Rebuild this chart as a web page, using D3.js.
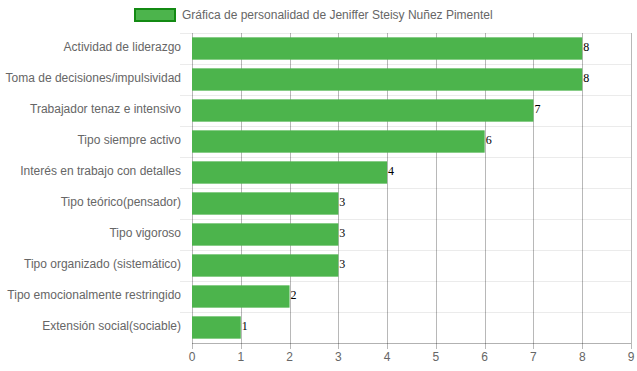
<!DOCTYPE html>
<html>
<head>
<meta charset="utf-8">
<script src="https://cdn.jsdelivr.net/npm/d3@7"></script>
<style>
  body { margin: 0; background: #fff; }
  svg { display: block; }
</style>
</head>
<body>
<div id="chart"></div>
<script>
// datos de la gráfica
var categorias = [
    "Actividad de liderazgo",
    "Toma de decisiones/impulsividad",
    "Trabajador tenaz e intensivo",
    "Tipo siempre activo",
    "Interés en trabajo con detalles",
    "Tipo teórico(pensador)",
    "Tipo vigoroso",
    "Tipo organizado (sistemático)",
    "Tipo emocionalmente restringido",
    "Extensión social(sociable)"
];
var valores = [8, 8, 7, 6, 4, 3, 3, 3, 2, 1];
var ticksX = [0, 1, 2, 3, 4, 5, 6, 7, 8, 9];
var titulo = "Gráfica de personalidad de Jeniffer Steisy Nuñez Pimentel";

var width = 637;
var height = 371;
var fuente = "'Liberation Sans', Arial, sans-serif";

var svg = d3.select("#chart")
    .append("svg")
    .attr("width", width)
    .attr("height", height);

var x = d3.scaleLinear()
    .domain([0, 9])
    .range([192, 631]);

var y = d3.scaleBand()
    .domain(categorias)
    .range([33, 343]);

// lineas horizontales (entre categorias)
svg.append("g")
    .selectAll("line")
    .data(d3.range(categorias.length))
    .enter().append("line")
    .attr("x1", 180)
    .attr("x2", 631)
    .attr("y1", d => Math.round(y(categorias[d])) + 0.5)
    .attr("y2", d => Math.round(y(categorias[d])) + 0.5)
    .attr("stroke", "rgba(0,0,0,0.08)");

// lineas verticales
svg.append("g")
    .selectAll("line")
    .data(ticksX)
    .enter().append("line")
    .attr("x1", d => Math.round(x(d)) + 0.5)
    .attr("x2", d => Math.round(x(d)) + 0.5)
    .attr("y1", 33)
    .attr("y2", 349)
    .attr("stroke", "rgba(0,0,0,0.28)");

// eje inferior
svg.append("line")
    .attr("x1", 192)
    .attr("x2", 631)
    .attr("y1", 343.5)
    .attr("y2", 343.5)
    .attr("stroke", "rgba(0,0,0,0.3)");

// barras
var barH = y.bandwidth() * 0.72;
svg.append("g")
    .selectAll("rect")
    .data(valores)
    .enter().append("rect")
    .attr("x", x(0))
    .attr("y", (d, i) => y(categorias[i]) + (y.bandwidth() - barH) / 2)
    .attr("width", d => x(d) - x(0))
    .attr("height", barH)
    .attr("fill", "#4cb44c");

// valores al final de la barra
svg.append("g")
    .selectAll("text")
    .data(valores)
    .enter().append("text")
    .attr("x", d => x(d) + 1)
    .attr("y", (d, i) => y(categorias[i]) + y.bandwidth() / 2 - 2)
    .attr("dy", "0.35em")
    .attr("font-family", "'Liberation Serif', 'Times New Roman', serif")
    .attr("font-size", 12)
    .attr("fill", "#000")
    .text(d => d);

// etiquetas eje y
svg.append("g")
    .selectAll("text")
    .data(categorias)
    .enter().append("text")
    .attr("x", 181)
    .attr("y", d => y(d) + y.bandwidth() / 2 - 1.5)
    .attr("dy", "0.35em")
    .attr("text-anchor", "end")
    .attr("font-family", fuente)
    .attr("font-size", 12)
    .attr("fill", "#666")
    .text(d => d);

// etiquetas eje x
svg.append("g")
    .selectAll("text")
    .data(ticksX)
    .enter().append("text")
    .attr("x", d => x(d))
    .attr("y", 357)
    .attr("dy", "0.35em")
    .attr("text-anchor", "middle")
    .attr("font-family", fuente)
    .attr("font-size", 12)
    .attr("fill", "#666")
    .text(d => d);

// leyenda
var legend = svg.append("g");
legend.append("rect")
    .attr("x", 135)
    .attr("y", 9)
    .attr("width", 40)
    .attr("height", 12)
    .attr("fill", "#4cb44c")
    .attr("stroke", "#138a13")
    .attr("stroke-width", 2);
legend.append("text")
    .attr("x", 182)
    .attr("y", 15)
    .attr("dy", "0.35em")
    .attr("font-family", fuente)
    .attr("font-size", 12)
    .attr("fill", "#666")
    .text(titulo);
</script>
</body>
</html>
